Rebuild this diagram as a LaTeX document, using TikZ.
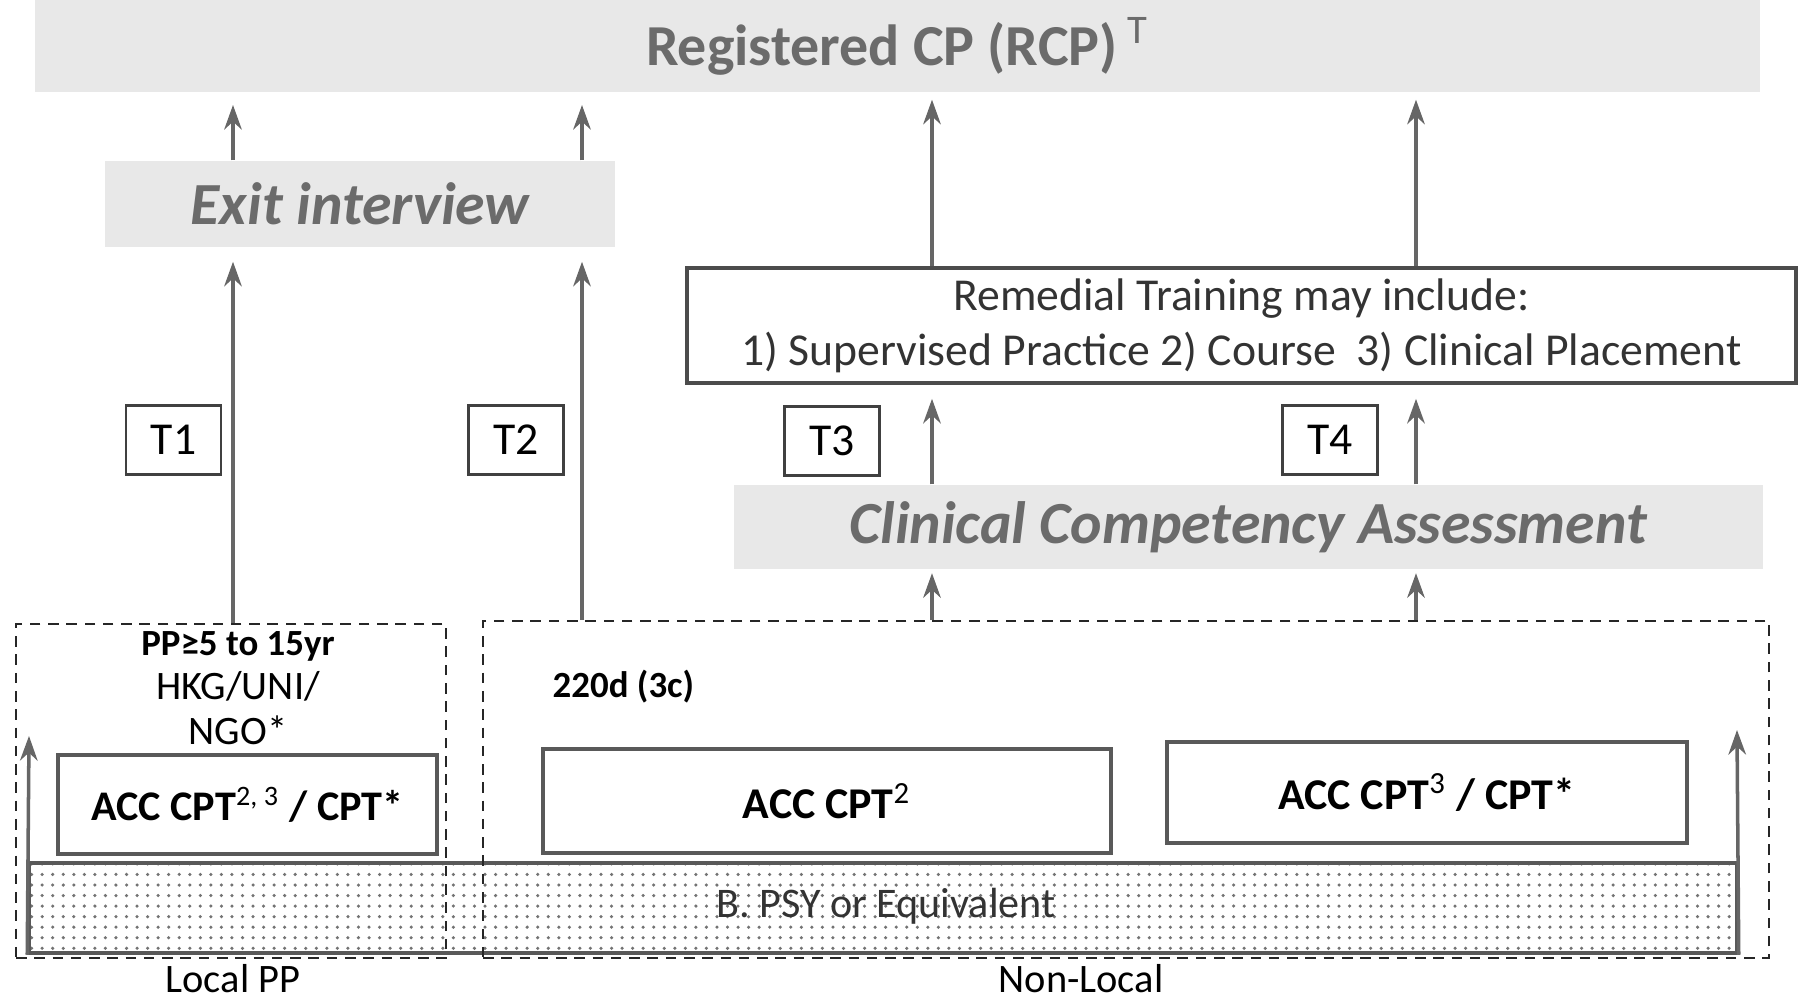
\documentclass[tikz,border=0pt]{standalone}
\usepackage{fontspec}
\setmainfont{Carlito}
\usetikzlibrary{patterns,arrows.meta}

\begin{document}
\begin{tikzpicture}[
  haze/.style={fill=black!9,inner sep=0pt,text=black!58},
  tbox/.style={draw=black!75,line width=0.7pt,minimum width=0.95cm,minimum height=0.69cm,inner sep=0pt,font=\fontsize{13}{15}\selectfont},
  cptbox/.style={draw=black!65,line width=1pt,inner sep=0pt,font=\bfseries\fontsize{12.5}{15}\selectfont},
  area/.style={draw=black!85,dash pattern=on 3pt off 2.2pt,line width=0.5pt,inner sep=0pt},
  up/.style={draw=black!60,line width=1pt,-{Stealth[length=7pt,width=5pt]}}]
  \useasboundingbox (0,0) rectangle (18.03,10.01);

  % hazy title bands
  \node[haze,minimum width=17.25cm,minimum height=0.92cm,font=\bfseries\fontsize{16.5}{19}\selectfont] (rcp) at (8.975,9.55) {Registered CP (RCP)\,\textsuperscript{\mdseries T}};
  \node[haze,minimum width=5.1cm,minimum height=0.86cm,font=\bfseries\itshape\fontsize{17}{20}\selectfont] (exit) at (3.6,7.97) {Exit interview};
  \node[haze,minimum width=10.29cm,minimum height=0.84cm,font=\bfseries\itshape\fontsize{17}{20}\selectfont] (cca) at (12.48,4.74) {Clinical Competency Assessment};

  \node[draw=black!70,line width=1pt,minimum width=11.09cm,minimum height=1.15cm,inner sep=0pt,align=center,
        font=\fontsize{13}{15.6}\selectfont,text=black!80] (remedial) at (12.415,6.755)
        {Remedial Training may include:\\1) Supervised Practice 2) Course\ \ 3) Clinical Placement};

  \node[tbox] (t1) at (1.735,5.61) {T1};
  \node[tbox] (t2) at (5.16,5.61) {T2};
  \node[tbox] (t3) at (8.32,5.60) {T3};
  \node[tbox] (t4) at (13.30,5.61) {T4};

  % degree band and pathways
  \node[draw=black!65,line width=1pt,pattern=dots,pattern color=black!55,minimum width=17.08cm,minimum height=0.90cm,
        inner sep=0pt] (psy) at (8.83,0.93) {};
  \node[font=\fontsize{12}{14}\selectfont,text=black!80] (psytext) at (8.86,0.95) {B. PSY or Equivalent};
  \node[area,minimum width=4.30cm,minimum height=3.34cm] (local) at (2.31,2.10) {};
  \node[area,minimum width=12.86cm,minimum height=3.37cm] (nonlocal) at (11.26,2.115) {};

  \node[cptbox,minimum width=3.79cm,minimum height=0.99cm,font=\bfseries\fontsize{12}{14}\selectfont] (acc1) at (2.475,1.965) {ACC CPT\textsuperscript{\mdseries 2, 3} / CPT*};
  \node[cptbox,minimum width=5.68cm,minimum height=1.04cm] (acc2) at (8.27,2.0) {ACC CPT\textsuperscript{\mdseries 2}};
  \node[cptbox,minimum width=5.20cm,minimum height=1.01cm] (acc3) at (14.27,2.085) {ACC CPT\textsuperscript{\mdseries 3} / CPT*};

  \node[align=center,font=\fontsize{11.5}{12.6}\selectfont] (pp) at (2.38,3.13) {{\bfseries\fontsize{10.5}{12.6}\selectfont PP≥5 to 15yr}\\HKG/UNI/\\NGO*};
  \node[anchor=west,inner sep=0pt,font=\bfseries\fontsize{10.5}{13}\selectfont] (days) at (5.52,3.14) {220d (3c)};
  \node[anchor=north,inner sep=0pt,font=\fontsize{11.5}{14}\selectfont] (locallbl) at (2.33,0.37) {Local PP};
  \node[anchor=north,inner sep=0pt,font=\fontsize{11.5}{14}\selectfont] (nonlocallbl) at (10.81,0.37) {Non-Local};

  \coordinate (a1) at (2.33,0);
  \coordinate (a2) at (5.82,0);
  \coordinate (a3) at (9.32,0);
  \coordinate (a4) at (14.16,0);
  \coordinate (ltip) at (0.29,2.65);
  \coordinate (rtip) at (17.37,2.71);

  \draw[up,shorten >=4pt] (local.north -| a1) -- (exit.south -| a1);
  \draw[up,shorten >=3.5pt] (exit.north -| a1) -- (rcp.south -| a1);
  \draw[up,shorten >=4pt] (nonlocal.north -| a2) -- (exit.south -| a2);
  \draw[up,shorten >=3.5pt] (exit.north -| a2) -- (rcp.south -| a2);
  \draw[up,shorten >=1pt] (nonlocal.north -| a3) -- (cca.south -| a3);
  \draw[up,shorten >=1pt] (nonlocal.north -| a4) -- (cca.south -| a4);
  \draw[up,shorten >=4pt] (cca.north -| a3) -- (remedial.south -| a3);
  \draw[up,shorten >=4pt] (cca.north -| a4) -- (remedial.south -| a4);
  \draw[up,shorten >=2pt] (remedial.north -| a3) -- (rcp.south -| a3);
  \draw[up,shorten >=2pt] (remedial.north -| a4) -- (rcp.south -| a4);
  \draw[up] (psy.south west) -- (ltip);
  \draw[up] (psy.south east) -- (rtip);
\end{tikzpicture}
\end{document}
